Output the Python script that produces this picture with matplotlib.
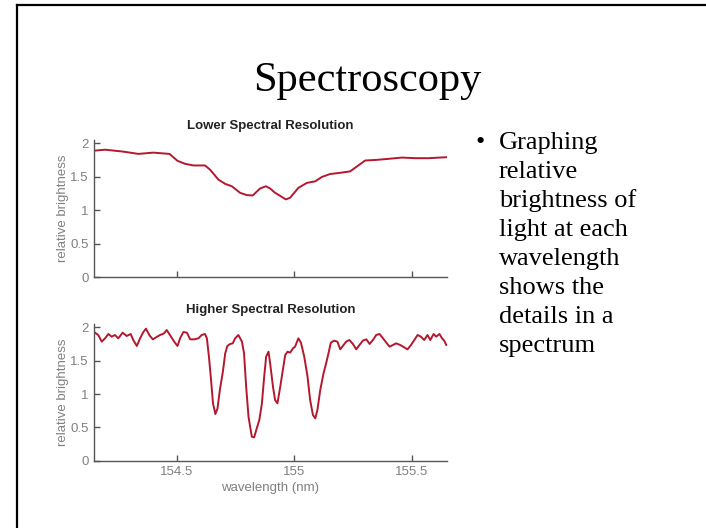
import matplotlib
matplotlib.use("Agg")
import matplotlib.pyplot as plt
from matplotlib.lines import Line2D

# ---------------- data ----------------
low_wavelength = [154.148, 154.195, 154.273, 154.337, 154.400, 154.469, 154.503, 154.535,
                  154.571, 154.620, 154.642, 154.677, 154.706, 154.734, 154.769, 154.798,
                  154.823, 154.854, 154.879, 154.897, 154.918, 154.964, 154.982, 155.017,
                  155.053, 155.089, 155.117, 155.152, 155.188, 155.237, 155.266, 155.301,
                  155.351, 155.400, 155.457, 155.514, 155.571, 155.649]
low_brightness = [1.89, 1.905, 1.876, 1.842, 1.861, 1.842, 1.738, 1.694,
                  1.669, 1.669, 1.605, 1.457, 1.393, 1.358, 1.26, 1.225,
                  1.22, 1.324, 1.358, 1.324, 1.26, 1.161, 1.186, 1.334,
                  1.408, 1.432, 1.497, 1.541, 1.556, 1.580, 1.654, 1.743,
                  1.753, 1.768, 1.787, 1.778, 1.778, 1.793]

high_wavelength = [154.148, 154.166, 154.181, 154.195, 154.209, 154.223, 154.237, 154.251,
                   154.270, 154.287, 154.304, 154.315, 154.330, 154.344, 154.358, 154.369,
                   154.383, 154.398, 154.412, 154.429, 154.446, 154.457, 154.471, 154.489,
                   154.503, 154.514, 154.528, 154.543, 154.557, 154.574, 154.592, 154.606,
                   154.620, 154.628, 154.637, 154.646, 154.654, 154.664, 154.673, 154.684,
                   154.696, 154.706, 154.715, 154.727, 154.738, 154.748, 154.762, 154.777,
                   154.786, 154.795, 154.805, 154.819, 154.829, 154.840, 154.851, 154.862,
                   154.871, 154.880, 154.890, 154.897, 154.909, 154.918, 154.928, 154.940,
                   154.951, 154.961, 154.971, 154.982, 154.994, 155.003, 155.017, 155.028,
                   155.042, 155.056, 155.067, 155.079, 155.089, 155.098, 155.110, 155.124,
                   155.135, 155.145, 155.155, 155.169, 155.183, 155.195, 155.206, 155.220,
                   155.234, 155.249, 155.263, 155.277, 155.291, 155.306, 155.320, 155.334,
                   155.348, 155.362, 155.377, 155.391, 155.405, 155.419, 155.433, 155.450,
                   155.467, 155.481, 155.496, 155.510, 155.524, 155.538, 155.552, 155.566,
                   155.578, 155.592, 155.603, 155.617, 155.628, 155.637, 155.646]
high_brightness = [1.93, 1.885, 1.785, 1.835, 1.90, 1.86, 1.885, 1.835,
                   1.92, 1.87, 1.90, 1.81, 1.72, 1.835, 1.93, 1.98,
                   1.885, 1.82, 1.85, 1.885, 1.91, 1.96, 1.885, 1.785,
                   1.72, 1.835, 1.93, 1.92, 1.82, 1.82, 1.835, 1.885,
                   1.90, 1.835, 1.55, 1.20, 0.86, 0.70, 0.78, 1.08,
                   1.335, 1.61, 1.72, 1.75, 1.76, 1.835, 1.885, 1.785,
                   1.61, 1.11, 0.66, 0.36, 0.35, 0.485, 0.61, 0.86,
                   1.235, 1.56, 1.635, 1.46, 1.11, 0.91, 0.86, 1.11,
                   1.36, 1.585, 1.635, 1.62, 1.685, 1.71, 1.835, 1.77,
                   1.56, 1.26, 0.91, 0.685, 0.635, 0.76, 1.06, 1.31,
                   1.46, 1.61, 1.77, 1.80, 1.785, 1.67, 1.72, 1.785,
                   1.81, 1.75, 1.67, 1.735, 1.80, 1.82, 1.75, 1.81,
                   1.885, 1.90, 1.835, 1.77, 1.71, 1.735, 1.76, 1.735,
                   1.70, 1.67, 1.735, 1.81, 1.885, 1.86, 1.81, 1.885,
                   1.81, 1.90, 1.86, 1.90, 1.835, 1.80, 1.735]

x_ticks = [154.5, 155.0, 155.5]
x_tick_labels = ["154.5", "155", "155.5"]
y_ticks = [0, 0.5, 1, 1.5, 2]
y_tick_labels = ["0", "0.5", "1", "1.5", "2"]

slide_title = "Spectroscopy"
bullet_lines = ["Graphing", "relative", "brightness of", "light at each",
                "wavelength", "shows the", "details in a", "spectrum"]
panel_titles = ["Lower Spectral Resolution", "Higher Spectral Resolution"]

# ---------------- figure ----------------
W, H = 706, 528
fig = plt.figure(figsize=(W / 100, H / 100), dpi=100)
fig.patch.set_facecolor("white")

SANS = "Liberation Sans"
SERIF = "Liberation Serif"
LINE_COLOR = "#b3182f"
SPINE = "#555555"
LABEL = "#808080"


def fx(px):
    return px / W


def fy(py):
    return 1 - py / H


# slide border (left and top edges)
fig.add_artist(Line2D([fx(17), fx(17)], [fy(5), 0], color="black", lw=1.6,
                      transform=fig.transFigure))
fig.add_artist(Line2D([fx(17), 1], [fy(5), fy(5)], color="black", lw=1.6,
                      transform=fig.transFigure))

# slide title
fig.text(fx(367), fy(91), slide_title, ha="center", va="baseline",
         fontsize=30.5, family=SERIF, color="black")

# bullet text
fig.text(fx(475), fy(149), "\u2022", ha="left", va="baseline",
         fontsize=19, family=SERIF, color="black")
for i, line in enumerate(bullet_lines):
    fig.text(fx(499), fy(149 + 29 * i), line, ha="left", va="baseline",
             fontsize=19, family=SERIF, color="black")

# axes
ax_left = fx(94)
ax_w = (447 - 94) / W
ax1 = fig.add_axes([ax_left, fy(277), ax_w, (277 - 140) / H])
ax2 = fig.add_axes([ax_left, fy(460.7), ax_w, (460.7 - 324) / H])

for ax, xs, ys, title in [(ax1, low_wavelength, low_brightness, panel_titles[0]),
                          (ax2, high_wavelength, high_brightness, panel_titles[1])]:
    ax.plot(xs, ys, color=LINE_COLOR, lw=1.4, solid_joinstyle="round")
    ax.set_xlim(154.148, 155.649)
    ax.set_ylim(0, 2.05)
    for s in ["top", "right"]:
        ax.spines[s].set_visible(False)
    for s in ["left", "bottom"]:
        ax.spines[s].set_color(SPINE)
        ax.spines[s].set_linewidth(1.0)
    ax.set_yticks(y_ticks)
    ax.set_yticklabels(y_tick_labels)
    ax.set_xticks(x_ticks)
    ax.tick_params(direction="in", length=4, width=1, color=SPINE,
                   labelcolor=LABEL, labelsize=9.5, pad=4)
    for lab in ax.get_yticklabels() + ax.get_xticklabels():
        lab.set_family(SANS)
    ax.set_ylabel("relative brightness", family=SANS, fontsize=9.5, color=LABEL)
    ax.yaxis.set_label_coords(-0.072, 0.5)
    ax.set_title(title, family=SANS, fontsize=9.5, fontweight="bold",
                 color="#222222", pad=8)
    ax.set_facecolor("none")

ax1.set_xticklabels([])
ax2.set_xticklabels(x_tick_labels)
for lab in ax2.get_xticklabels():
    lab.set_family(SANS)
ax2.set_xlabel("wavelength (nm)", family=SANS, fontsize=9.5, color=LABEL, labelpad=3)

fig.savefig("out.png", dpi=100, facecolor="white")
